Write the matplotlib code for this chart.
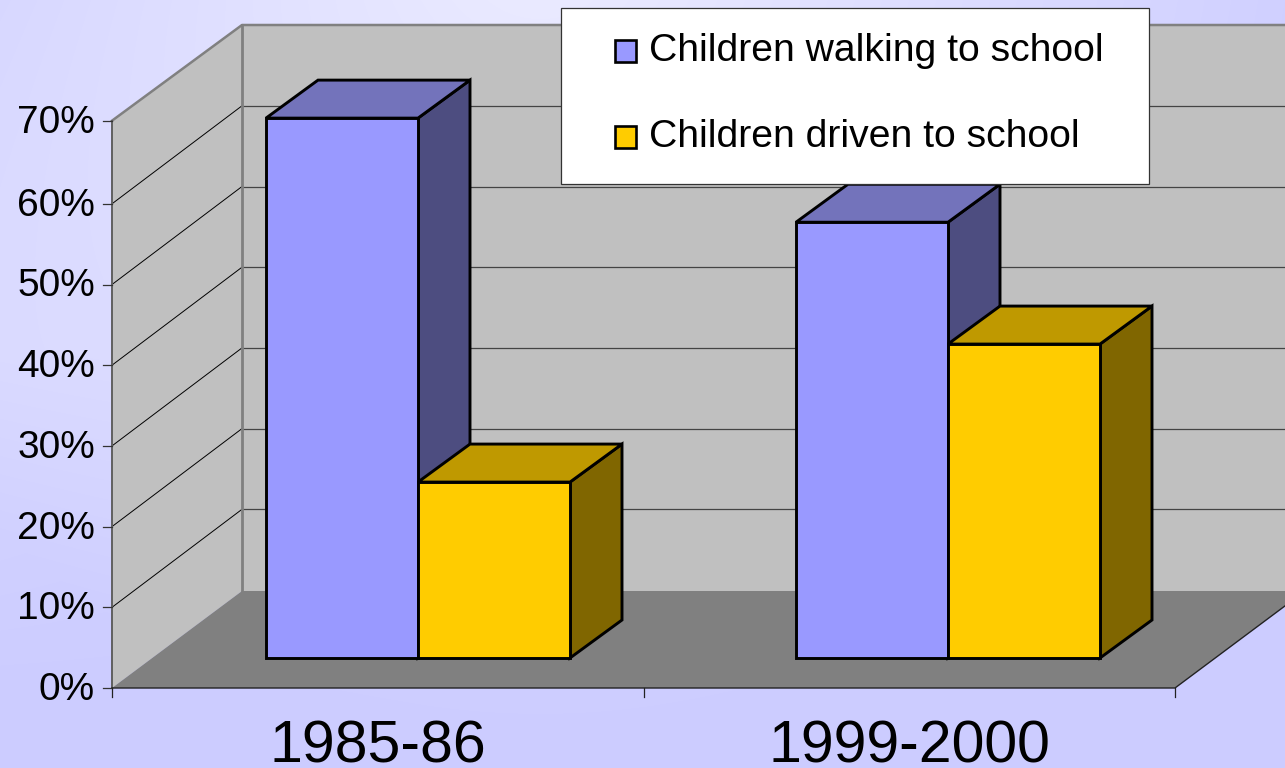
import numpy as np
import matplotlib
matplotlib.use('Agg')
import matplotlib.pyplot as plt
from matplotlib.patches import Polygon, Rectangle

plt.rcParams['font.family'] = ['Liberation Sans', 'DejaVu Sans']

categories = ['1985-86', '1999-2000']
walking = [66.9, 54.0]
driven = [21.8, 38.9]
series_names = ['Children walking to school', 'Children driven to school']
pct_ticks = [0, 10, 20, 30, 40, 50, 60, 70]

# colours: front, top, side
walk_cols = ('#9999FF', '#7373BB', '#4D4D80')
drive_cols = ('#FFCC00', '#BF9900', '#806600')

# pixel geometry of the fake 3d box
x0, x1 = 112, 1175
y0 = 688
px_per_pct = 8.07
dx = 130
grid_dy = -98   # gridlines, front plane -> back wall
floor_dy = -97
top_front, top_back = 120.7, 25
bar_w = 152
bar_base = 658
bar_off = 41   # bars stand a bit behind the front plane
cat_w = 530
bar_dx, bar_dy = 52, -38

fig = plt.figure(figsize=(12.85, 7.68), dpi=100)
ax = fig.add_axes([0, 0, 1, 1])
ax.set_xlim(0, 1285)
ax.set_ylim(768, 0)
ax.axis('off')

# background glow
xx, yy = np.meshgrid(np.arange(1285), np.arange(768))
d = np.hypot(xx - 540, yy + 60)
glow = 30 * np.clip(1 - d / 800, 0, 1)
glow = glow + 9 * np.clip(1 - xx / 450, 0, 1) * np.clip(1 - np.abs(yy - 350) / 350, 0, 1)
glow = glow + 2 * np.clip(1 - yy / 700, 0, 1)
bg = np.dstack([0xCC + glow, 0xCC + glow, 0xFF + 0 * glow]) / 255
ax.imshow(np.clip(bg, 0, 1), extent=(0, 1285, 768, 0), aspect='auto', zorder=0)


def ypct(p):
    return y0 - p * px_per_pct


# walls and floor
ax.add_patch(Polygon([(x0 + dx, y0 + floor_dy), (1285 + dx, y0 + floor_dy), (1285 + dx, top_back), (x0 + dx, top_back)],
                     fc='#C0C0C0', ec='none', zorder=1))
ax.add_patch(Polygon([(x0, y0), (x0 + dx, y0 + floor_dy), (x0 + dx, top_back), (x0, top_front)],
                     fc='#C0C0C0', ec='none', zorder=1))
ax.add_patch(Polygon([(x0, y0), (x0 + dx, y0 + floor_dy), (x1 + dx, y0 + floor_dy), (x1, y0)],
                     fc='#808080', ec='none', zorder=2))

# gridlines
for p in pct_ticks[1:-1]:
    ax.plot([x0, x0 + dx], [ypct(p), ypct(p) + grid_dy], color='black', lw=0.7, zorder=3)
    ax.plot([x0 + dx, 1285], [ypct(p) + grid_dy, ypct(p) + grid_dy], color='#444444', lw=0.9, zorder=3)

# wall edges
ax.plot([x0, x0 + dx, 1285], [top_front, top_back, top_back], color='#808080', lw=1.8, zorder=3)
ax.plot([x0 + dx, x0 + dx], [top_back, y0 + floor_dy], color='#808080', lw=2.0, zorder=3)
ax.plot([x0, x0], [top_front, y0], color='#606060', lw=1.4, zorder=3)
ax.plot([x0, x1, x1 + dx], [y0, y0, y0 + floor_dy], color='#222222', lw=1.0, zorder=3)

# ticks
for p in pct_ticks:
    yt = top_front if p == pct_ticks[-1] else ypct(p)
    ax.plot([x0 - 9, x0], [yt, yt], color='#333333', lw=0.9, zorder=3)
    ax.text(95, yt - 2, '%d%%' % p, ha='right', va='center_baseline', fontsize=28, color='black')
xt = np.linspace(x0, x1, len(categories) + 1)
for x in xt:
    ax.plot([x, x], [y0, y0 + 9], color='#222222', lw=0.9, zorder=3)
for i, c in enumerate(categories):
    ax.text((xt[i] + xt[i + 1]) / 2, 741, c, ha='center', va='center_baseline', fontsize=42.5, color='black')


def bar3d(left, value, cols, z):
    right = left + bar_w
    t = bar_base - value * px_per_pct
    kw = dict(ec='black', lw=2.1, joinstyle='miter', zorder=z)
    ax.add_patch(Polygon([(right, bar_base), (right + bar_dx, bar_base + bar_dy),
                          (right + bar_dx, t + bar_dy), (right, t)], fc=cols[2], **kw))
    ax.add_patch(Polygon([(left, t), (left + bar_dx, t + bar_dy),
                          (right + bar_dx, t + bar_dy), (right, t)], fc=cols[1], **kw))
    ax.add_patch(Rectangle((left, t), bar_w, bar_base - t, fc=cols[0], **kw))


for i in range(len(categories)):
    c = x0 + (i + 0.5) * cat_w + bar_off
    bar3d(c - bar_w, walking[i], walk_cols, 5)
    bar3d(c, driven[i], drive_cols, 6)

# legend box
ax.add_patch(Rectangle((560.5, 7.5), 588, 176, fc='white', ec='#333333', lw=0.9, zorder=10))
for name, cols, ly in zip(series_names, (walk_cols, drive_cols), (51, 137)):
    ax.add_patch(Rectangle((615, ly - 11), 21, 22, fc=cols[0], ec='black', lw=1.9, zorder=11))
    ax.text(649, ly - 4, name, ha='left', va='center_baseline', fontsize=28.2, color='black', zorder=11)

fig.savefig('out.png', dpi=100)
